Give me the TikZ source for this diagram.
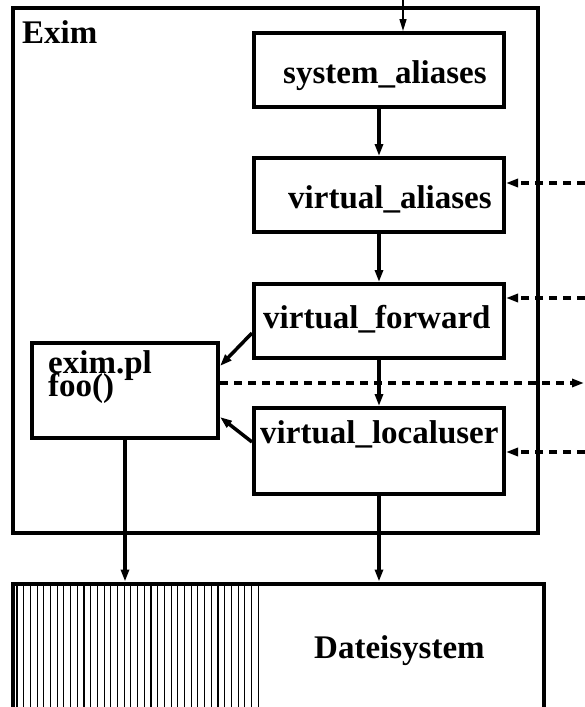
\documentclass[tikz,border=0pt]{standalone}
\usepackage{fontspec}
\setmainfont{Liberation Serif}
\usetikzlibrary{arrows.meta}

\begin{document}
\begin{tikzpicture}[x=1pt,y=-1pt,font=\fontsize{33}{22}\selectfont\bfseries]
	\tikzset{box/.style={draw,line width=4pt,inner sep=0pt,minimum width=250pt,minimum height=74pt}}
	\tikzset{lbl/.style={anchor=base west,inner sep=0pt}}
	\tikzset{edge/.style={-{Triangle[length=12pt,width=8pt]},line width=3.5pt}}
	\tikzset{thinedge/.style={-{Triangle[length=12pt,width=7pt]},line width=1.5pt}}
	\tikzset{dashedge/.style={edge,dash pattern=on 8pt off 6pt}}
	\tikzset{hatch/.style={line width=1.1pt}}
	
	\useasboundingbox (0,0) rectangle (585,707);
	
	\foreach \i in {0,...,36}
		\draw[hatch] ({17+6.7*\i},585) -- ({17+6.7*\i},707);
	
	\node(exim) at (275.25,270.25) [box,minimum width=525.5pt,minimum height=525.5pt] {};
	\node(dsys) at (278,646) [box,minimum width=531pt,minimum height=125pt] {};
	
	\node(sysal) at (379,70) [box] {};
	\node(virtal) at (379,195) [box] {};
	\node(virtfw) at (379,321) [box] {};
	\node(virtlu) at (379,451) [box,minimum height=86pt] {};
	\node(eximpl) at (125,390) [box,minimum width=186pt,minimum height=95pt] {};
	
	\node(t_exim) at (22,43) [lbl] {Exim};
	\node(t_sysal) at (283,83) [lbl] {system\_aliases};
	\node(t_virtal) at (288,208) [lbl] {virtual\_aliases};
	\node(t_virtfw) at (263,328) [lbl] {virtual\_forward};
	\node(t_virtlu) at (260,443) [lbl] {virtual\_localuser};
	\node(t_eximpl) at (48,396) [lbl,align=left] {exim.pl\\[-9pt]foo()};
	\node(t_dsys) at (314,658) [lbl] {Dateisystem};
	
	\coordinate(ein) at (403,0);
	\coordinate(ext_al) at (585,183);
	\coordinate(ext_fw) at (585,298);
	\coordinate(ext_out) at (584,383);
	\coordinate(ext_lu) at (585,452);
	
	\draw[thinedge] (ein) -- (ein |- sysal.north);
	\draw[edge] (sysal) -- (virtal);
	\draw[edge] (virtal) -- (virtfw);
	\draw[edge] (virtfw) -- (virtlu);
	\draw[edge] (virtlu.south) -- (virtlu.south |- dsys.north);
	\draw[edge] (eximpl.south) -- (eximpl.south |- dsys.north);
	
	\draw[edge] ([yshift=-12pt]virtfw.west) -- ([yshift=24pt]eximpl.east);
	\draw[edge] ([yshift=9pt]virtlu.west) -- ([yshift=-27pt]eximpl.east);
	
	\draw[dashedge] (ext_al) -- (ext_al -| virtal.east);
	\draw[dashedge] (ext_fw) -- (ext_fw -| virtfw.east);
	\draw[dashedge] (ext_lu) -- (ext_lu -| virtlu.east);
	\draw[dashedge] (ext_out -| eximpl.east) -- (ext_out);
	
\end{tikzpicture}
\end{document}
